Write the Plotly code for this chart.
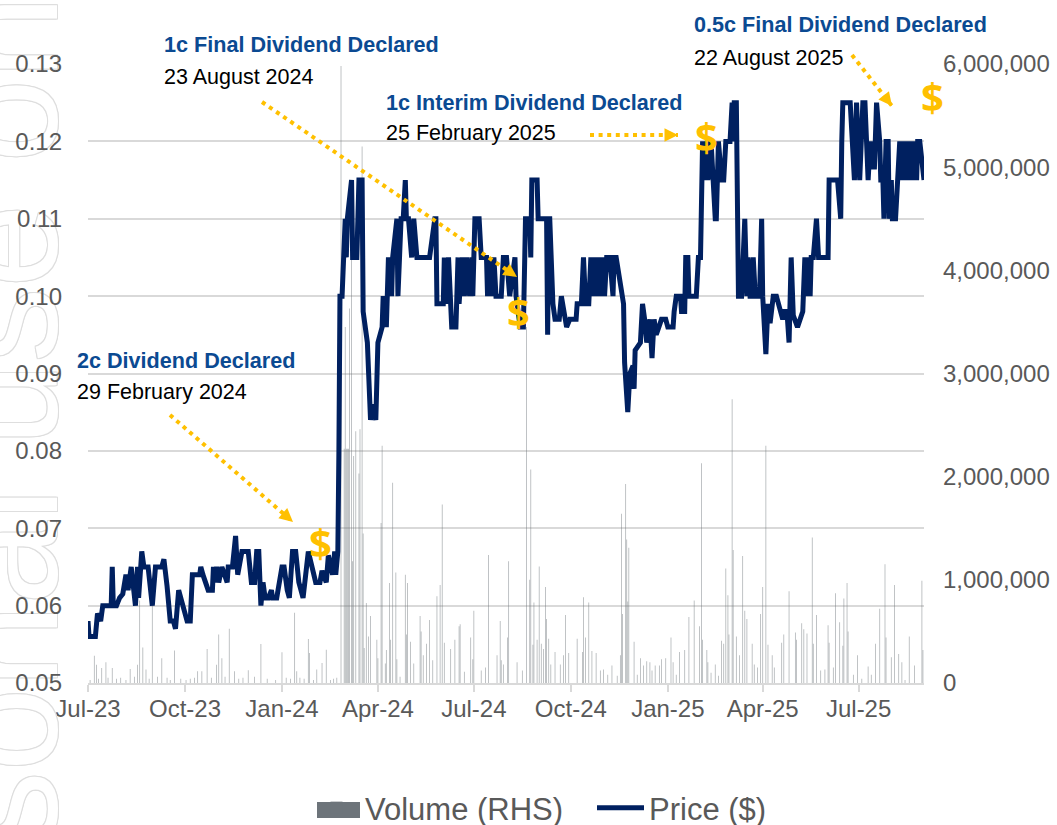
import pandas as pd
import plotly.graph_objects as go

START = pd.Timestamp("2023-07-01")
END = pd.Timestamp("2025-09-01")

# days since START, price ($)
price_days = [0,1,7,8,9,12,14,20,22,23,24,27,30,33,36,38,41,45,47,48,51,53,57,61,64,70,72,75,78,81,83,86,90,94,97,99,106,107,109,114,118,119,120,122,124,127,132,133,137,140,142,146,152,155,158,160,162,164,166,168,171,174,175,179,184,186,189,191,194,197,200,203,204,209,216,220,222,226,228,232,234,235,237,238,239,241,
244,245,246,250,251,255,257,260,261,265,268,270,273,275,279,280,282,283,285,288,289,293,294,297,299,301,302,304,307,309,312,324,329,330,331,337,338,340,342,345,349,351,352,355,357,359,362,364,365,367,371,373,378,379,381,383,385,387,392,394,397,400,405,406,410,413,415,419,420,421,426,427,435,436,437,438,441,443,447,449,454,457,463,464,468,470,472,475,477,479,481,483,484,486,488,490,492,495,498,499,501,
504,506,508,509,512,514,517,518,519,524,525,526,528,530,533,535,537,539,544,548,550,555,556,558,562,563,566,567,569,570,577,579,581,583,585,587,588,591,595,596,598,601,603,605,609,611,612,613,615,616,617,620,623,625,626,628,629,631,633,637,639,640,643,645,647,650,653,659,660,663,665,667,669,673,678,680,682,683,685,686,688,691,693,702,703,711,714,715,716,723,727,729,731,732,735,737,740,742,744,746,748,751,752,754,755,757,759,760,762,763,766,770,772,773,775,776,778,780,782,783,786,787,789,792,793]
price_values = [.058,.056,.056,.058,.059,.058,.06,.06,.06,.065,.06,.06,.061,.0615,.064,.062,.065,.06,.065,.061,.067,.065,.065,.06,.065,.065,.066,.0625,.058,.058,.057,.062,.06,.058,.058,.064,.064,.065,.064,.062,.062,.065,.063,.065,.063,.065,.063,.065,.065,.069,.064,.067,.067,.063,.063,.067,.067,.06,.063,.061,.061,.062,.061,.061,.065,.065,.062,.061,.067,.067,.063,.061,.061,.067,.063,.063,.0645,.063,.0665,.064,.067,.064,.067,.08,.10,.10,
.11,.105,.11,.115,.105,.105,.115,.115,.098,.094,.084,.086,.084,.094,.096,.10,.096,.096,.105,.10,.105,.11,.10,.11,.11,.115,.11,.11,.105,.11,.105,.105,.11,.11,.099,.099,.105,.099,.105,.096,.096,.105,.099,.105,.10,.105,.10,.105,.10,.11,.11,.105,.105,.10,.105,.10,.105,.10,.10,.105,.105,.10,.105,.10,.096,.096,.11,.11,.105,.115,.115,.11,.11,.095,.11,.11,.099,.097,.097,.10,.096,.097,.097,.099,.099,.105,.099,.099,.105,.10,.105,.10,.105,.10,.105,.10,.105,.105,.10,.105,.105,
.102,.10,.099,.0914,.085,.09,.091,.088,.093,.094,.098,.099,.097,.094,.097,.092,.097,.095,.097,.097,.096,.096,.098,.10,.10,.098,.098,.105,.105,.10,.10,.105,.105,.12,.115,.12,.115,.12,.11,.11,.12,.115,.115,.12,.12,.125,.12,.125,.125,.11,.10,.10,.11,.10,.105,.10,.10,.105,.10,.10,.11,.10,.0925,.099,.0965,.10,.10,.097,.098,.098,.094,.105,.0975,.096,.098,.105,.10,.105,.10,.105,.105,.11,.105,.105,.115,.115,.11,.12,.125,.125,.115,.125,.12,.115,.125,.125,.115,.12,.1167,.1167,.125,.12,.115,.115,.11,.12,.12,.11,.115,.11,.11,.12,.115,.12,.115,.12,.115,.12,.115,.12,.115,.12,.12,.115,.115]

# days since START, shares
volume_days = [2,6,8,10,13,17,19,23,27,31,36,40,44,47,49,52,55,58,61,66,70,75,78,82,88,93,97,101,104,108,113,117,122,124,127,130,134,139,143,147,152,158,164,170,178,184,188,192,196,198,201,205,209,210,214,217,222,226,230,233,236,
240,243,244,245,246,247,248,250,251,252,254,257,258,260,261,262,264,266,268,274,275,278,279,282,283,286,287,289,292,293,296,301,302,303,306,309,315,316,318,321,324,327,331,334,336,338,344,348,352,
353,357,363,365,366,373,377,380,388,391,392,394,398,399,407,412,416,419,420,422,423,426,428,430,432,434,435,437,439,443,448,451,453,456,464,469,470,472,475,478,482,486,489,493,497,502,505,506,507,510,511,512,513,518,521,524,527,530,533,535,538,542,544,548,553,555,558,561,566,570,575,580,582,583,587,588,591,595,598,601,603,605,607,608,611,612,615,618,621,623,625,630,632,635,638,640,643,645,649,651,658,660,665,671,672,677,679,682,687,688,691,695,699,702,703,707,709,713,716,717,720,721,726,730,734,740,743,747,751,756,757,762,765,769,772,775,779,784,791,792]
volume_values = [30000,265000,178000,40000,145000,200000,50000,145000,40000,50000,30000,136000,60000,178000,800000,345000,130000,40000,800000,60000,240000,50000,30000,316000,40000,30000,40000,50000,113000,113000,330000,50000,178000,470000,240000,60000,526000,113000,40000,50000,123000,60000,378000,40000,30000,297000,50000,40000,680000,113000,50000,40000,426000,290000,30000,130000,194000,323000,30000,40000,50000,
5980000,2270000,3450000,2270000,2270000,2270000,3630000,4100000,1180000,2200000,2440000,2030000,2460000,5200000,1450000,340000,775000,450000,650000,420000,240000,1550000,2300000,190000,320000,970000,420000,1940000,1070000,230000,60000,1050000,470000,970000,400000,190000,650000,500000,270000,380000,610000,220000,840000,950000,1730000,390000,330000,420000,550000,
570000,110000,440000,230000,700000,120000,150000,1240000,270000,600000,220000,180000,440000,1180000,200000,120000,3450000,1000000,2070000,370000,780000,420000,1130000,380000,330000,930000,620000,430000,180000,300000,180000,270000,660000,290000,430000,300000,830000,440000,780000,310000,290000,120000,130000,80000,170000,70000,270000,1640000,670000,1930000,1390000,790000,1310000,400000,80000,240000,170000,210000,200000,120000,170000,170000,230000,240000,440000,200000,80000,300000,320000,640000,800000,550000,2130000,420000,320000,200000,100000,180000,70000,410000,380000,1110000,850000,470000,2750000,1290000,450000,270000,1230000,700000,620000,380000,180000,150000,670000,930000,2300000,370000,270000,150000,390000,470000,890000,490000,420000,580000,520000,480000,1410000,380000,660000,120000,130000,560000,390000,150000,870000,590000,360000,820000,970000,500000,80000,270000,40000,160000,80000,380000,720000,1150000,440000,250000,950000,280000,200000,30000,450000,170000,990000,320000]

price_ticks = [0.05, 0.06, 0.07, 0.08, 0.09, 0.10, 0.11, 0.12, 0.13]
volume_ticks = [0, 1000000, 2000000, 3000000, 4000000, 5000000, 6000000]

callouts = [
    ("2c Dividend Declared", "29 February 2024", 75, 360, 392),
    ("1c Final Dividend Declared", "23 August 2024", 162, 44, 77),
    ("1c Interim Dividend Declared", "25 February 2025", 384, 102, 133),
    ("0.5c Final Dividend Declared", "22 August 2025", 692, 25, 58),
]
arrows = [((170, 415), (293, 522)), ((262, 102), (517, 277)), ((590, 135), (678, 135)), ((852, 55), (892, 106))]
dollars = [(320, 542), (518, 311), (706, 136), (932, 96)]

W, H = 1057, 825
L, R, T, B = 88, 924, 64, 683
px = lambda x: (x - L) / (R - L)
py = lambda y: (B - y) / (B - T)

FONT = "Liberation Sans"
GREY = "#595959"
GRID = "#d9d9d9"
GOLD = "#FFC000"
BLUE = "#0B4A92"
NAVY = "#002060"
VOL = "#6D747A"
SH = "#dedede"
outline = ",".join(f"{a}px {b}px 0 {SH}" for a, b in [(1,0),(-1,0),(0,1),(0,-1),(1,1),(-1,-1),(1,-1),(-1,1)])

price_x = START + pd.to_timedelta(price_days, unit="D")
vol_x = START + pd.to_timedelta(volume_days, unit="D")

fig = go.Figure()
# base subplot only carries the watermark axis
fig.add_trace(go.Scatter(x=[START], y=[0.5], mode="none", showlegend=False, hoverinfo="skip", yaxis="y"))
fig.add_trace(go.Bar(x=vol_x, y=volume_values, yaxis="y2", showlegend=False,
                     marker=dict(color="rgba(109,116,122,0.55)", line=dict(width=0)),
                     width=0.75 * 86400000))
fig.add_trace(go.Bar(x=[START], y=[None], yaxis="y2", name="Volume (RHS)", marker=dict(color=VOL, line=dict(width=0))))
fig.add_trace(go.Scatter(x=price_x, y=price_values, yaxis="y3", name="Price ($)", mode="lines", cliponaxis=False,
                         line=dict(color=NAVY, width=5, shape="linear")))

shapes = []
for (a, b) in arrows:
    shapes.append(dict(type="line", xref="paper", yref="paper", x0=px(a[0]), y0=py(a[1]), x1=px(b[0]), y1=py(b[1]),
                       line=dict(color=GOLD, width=4, dash="4px,4.6px"), layer="above"))
# wide legend key for the volume bars
shapes.append(dict(type="rect", xref="paper", yref="paper", x0=px(317), x1=px(360), y0=py(818), y1=py(802),
                   fillcolor=VOL, line=dict(width=0), layer="above"))

ann = []
for (a, b) in arrows:
    dx, dy = b[0] - a[0], b[1] - a[1]
    n = (dx * dx + dy * dy) ** 0.5
    ann.append(dict(xref="paper", yref="paper", x=px(b[0]), y=py(b[1]), text="", showarrow=True,
                    axref="pixel", ayref="pixel", ax=-dx / n * 9, ay=-dy / n * 9,
                    arrowhead=2, arrowsize=1, arrowwidth=2.7, arrowcolor=GOLD, standoff=0))
for head, date, x, y1, y2 in callouts:
    ann.append(dict(xref="paper", yref="paper", x=px(x), y=py(y1), text=f"<b>{head}</b>", showarrow=False,
                    xanchor="left", yanchor="middle", font=dict(family=FONT, size=21.6, color=BLUE)))
    ann.append(dict(xref="paper", yref="paper", x=px(x), y=py(y2), text=date, showarrow=False,
                    xanchor="left", yanchor="middle", font=dict(family=FONT, size=21.5, color="#000000")))
for x, y in dollars:
    ann.append(dict(xref="paper", yref="paper", x=px(x), y=py(y), text="<b>$</b>", showarrow=False,
                    xanchor="center", yanchor="middle", font=dict(family="Open Sans", size=40, color=GOLD)))

fig.update_layout(
    width=W, height=H, autosize=False,
    margin=dict(l=L, r=W - R, t=T, b=H - B, pad=0, autoexpand=False),
    paper_bgcolor="white", plot_bgcolor="rgba(0,0,0,0)",
    hovermode=False, barmode="overlay",
    font=dict(family=FONT, color=GREY),
    shapes=shapes, annotations=ann,
    legend=dict(orientation="h", x=px(308), xanchor="left", y=py(808), yanchor="middle",
                font=dict(family=FONT, size=31, color=GREY), itemwidth=47,
                entrywidth=222, entrywidthmode="pixels", bgcolor="rgba(0,0,0,0)"),
    xaxis=dict(type="date", range=[START, END], tick0="2023-07-01", dtick="M3", tickformat="%b-%y",
               tickfont=dict(family=FONT, size=24, color=GREY), ticks="outside", ticklen=7, tickcolor=GRID, tickwidth=1.5,
               showline=True, linecolor=GRID, linewidth=1.5, showgrid=False, zeroline=False, ticklabelstandoff=-4),
    yaxis=dict(range=[0, 1], tickmode="array", tickvals=[py(631)], ticktext=["For personal use only"],
               tickangle=-90, ticks="", ticklabelstandoff=0, ticklabeloverflow="allow",
               tickfont=dict(family=FONT, size=150, color="white", shadow=outline),
               showgrid=False, zeroline=False, showline=False, fixedrange=True),
    yaxis2=dict(overlaying="y", side="right", range=[0, 6000000], tickmode="array", tickvals=volume_ticks,
                tickformat=",d", tickfont=dict(family=FONT, size=24, color=GREY), ticks="", ticklabelstandoff=18,
                showgrid=False, zeroline=False, showline=False),
    yaxis3=dict(overlaying="y", side="left", range=[0.05, 0.13], tickmode="array", tickvals=price_ticks,
                tickformat=".2f", tickfont=dict(family=FONT, size=24, color=GREY), ticks="", ticklabelstandoff=25,
                showgrid=True, gridcolor=GRID, gridwidth=1.5, zeroline=False, showline=False),
)
fig.write_html("out.html", post_script="document.body.style.margin='0';", config=dict(displayModeBar=False))
